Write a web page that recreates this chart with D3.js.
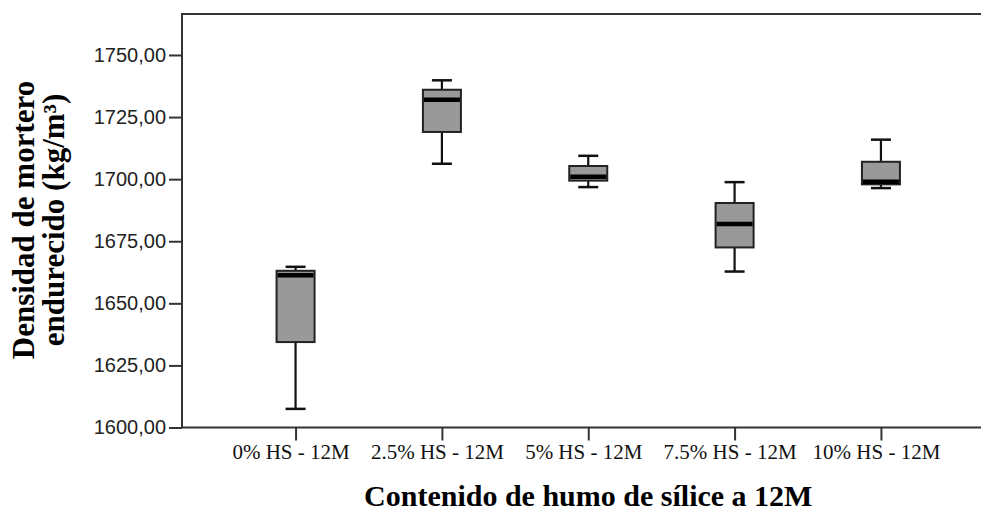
<!DOCTYPE html>
<html>
<head>
<meta charset="utf-8">
<script src="https://cdn.jsdelivr.net/npm/d3@7"></script>
<style>
  body { margin: 0; background: #fff; }
  svg { display: block; }
</style>
</head>
<body>
<div id="chart"></div>
<script>
const width = 981;
const height = 513;

// values (kg/m3)
const categories = ['0% HS - 12M', '2.5% HS - 12M', '5% HS - 12M', '7.5% HS - 12M', '10% HS - 12M'];
const mins    = [1607.5, 1706.2, 1696.8, 1662.8, 1696.4];
const q1s     = [1634.4, 1719.0, 1699.4, 1672.5, 1697.9];
const medians = [1661.3, 1732.0, 1701.0, 1681.9, 1699.0];
const q3s     = [1663.1, 1736.0, 1705.3, 1690.4, 1707.0];
const maxs    = [1664.7, 1739.8, 1709.4, 1698.8, 1715.9];
const yTicks  = [1600, 1625, 1650, 1675, 1700, 1725, 1750];

const boxes = categories.map((c, i) => ({
  cat: c, min: mins[i], q1: q1s[i], med: medians[i], q3: q3s[i], max: maxs[i]
}));

const plotLeft = 182;
const plotRight = 994.5;
const plotTop = 14;
const plotBottom = 427.5;

const fmt = d => d3.format('.2f')(d).replace('.', ',');

const x = d3.scalePoint()
  .domain(categories)
  .range([plotLeft, plotRight])
  .padding(0.776);

const y = d3.scaleLinear()
  .domain([1600, 1766.5])
  .range([plotBottom, plotTop]);

const svg = d3.select('#chart').append('svg')
  .attr('width', width)
  .attr('height', height);

// y axis
const yAxis = svg.append('g')
  .attr('transform', `translate(${plotLeft},0)`)
  .call(d3.axisLeft(y).tickValues(yTicks).tickFormat(fmt).tickSize(13).tickSizeOuter(0).tickPadding(3));
yAxis.select('.domain').remove();
yAxis.selectAll('.tick line').attr('stroke', '#333').attr('stroke-width', 2);
yAxis.selectAll('.tick text')
  .attr('fill', '#222')
  .style('font-family', '"Liberation Sans", Arial, sans-serif')
  .style('font-size', '20px');

// x axis
const xAxis = svg.append('g')
  .attr('transform', `translate(0,${plotBottom})`)
  .call(d3.axisBottom(x).tickSize(13).tickSizeOuter(0).tickPadding(4));
xAxis.select('.domain').remove();
xAxis.selectAll('.tick line').attr('stroke', '#333').attr('stroke-width', 2);
xAxis.selectAll('.tick text')
  .attr('fill', '#111')
  .attr('dx', -5)
  .style('font-family', '"Liberation Serif", "Times New Roman", serif')
  .style('font-size', '21px');

// frame (right side falls outside the picture)
svg.append('rect')
  .attr('x', plotLeft)
  .attr('y', plotTop)
  .attr('width', plotRight - plotLeft)
  .attr('height', plotBottom - plotTop)
  .attr('fill', 'none')
  .attr('stroke', '#333')
  .attr('stroke-width', 2);

// boxes
const boxW = 38;
const capW = 20;

const g = svg.selectAll('.box')
  .data(boxes)
  .enter()
  .append('g')
    .attr('class', 'box');

g.append('line')
  .attr('x1', d => x(d.cat)).attr('x2', d => x(d.cat))
  .attr('y1', d => y(d.max)).attr('y2', d => y(d.q3))
  .attr('stroke', '#111').attr('stroke-width', 2.2);

g.append('line')
  .attr('x1', d => x(d.cat)).attr('x2', d => x(d.cat))
  .attr('y1', d => y(d.q1)).attr('y2', d => y(d.min))
  .attr('stroke', '#111').attr('stroke-width', 2.2);

g.append('line')
  .attr('x1', d => x(d.cat) - capW / 2).attr('x2', d => x(d.cat) + capW / 2)
  .attr('y1', d => y(d.max)).attr('y2', d => y(d.max))
  .attr('stroke', '#111').attr('stroke-width', 2.5);

g.append('line')
  .attr('x1', d => x(d.cat) - capW / 2).attr('x2', d => x(d.cat) + capW / 2)
  .attr('y1', d => y(d.min)).attr('y2', d => y(d.min))
  .attr('stroke', '#111').attr('stroke-width', 2.5);

g.append('rect')
  .attr('x', d => x(d.cat) - boxW / 2)
  .attr('y', d => y(d.q3))
  .attr('width', boxW)
  .attr('height', d => y(d.q1) - y(d.q3))
  .attr('fill', '#999')
  .attr('stroke', '#222')
  .attr('stroke-width', 2);

g.append('line')
  .attr('x1', d => x(d.cat) - boxW / 2 + 1).attr('x2', d => x(d.cat) + boxW / 2 - 1)
  .attr('y1', d => y(d.med)).attr('y2', d => y(d.med))
  .attr('stroke', '#000').attr('stroke-width', 4.5);

// axis titles
svg.append('text')
  .attr('x', (plotLeft + plotRight) / 2)
  .attr('y', 506)
  .attr('text-anchor', 'middle')
  .style('font-family', '"Liberation Serif", "Times New Roman", serif')
  .style('font-weight', 'bold')
  .style('font-size', '30px')
  .text('Contenido de humo de sílice a 12M');

const yTitle = svg.append('text')
  .attr('transform', 'translate(0,220) rotate(-90)')
  .attr('text-anchor', 'middle')
  .style('font-family', '"Liberation Serif", "Times New Roman", serif')
  .style('font-weight', 'bold')
  .style('font-size', '31px');

yTitle.append('tspan')
  .attr('x', 0).attr('y', 34)
  .text('Densidad de mortero');

yTitle.append('tspan')
  .attr('x', 0).attr('y', 64)
  .text('endurecido (kg/m³)');
</script>
</body>
</html>
